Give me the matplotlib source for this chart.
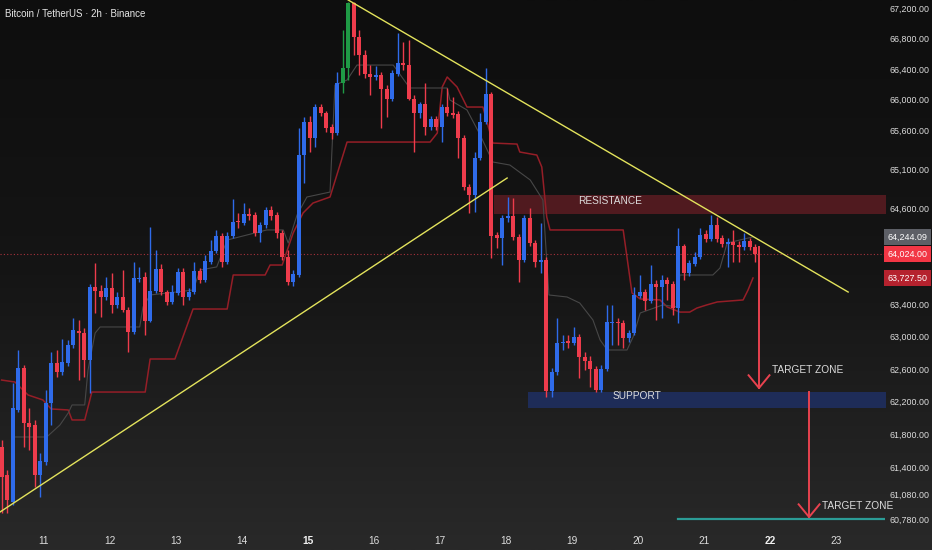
import matplotlib.pyplot as plt
import numpy as np
from matplotlib.colors import LinearSegmentedColormap
from matplotlib.ticker import FixedLocator, NullLocator, FuncFormatter
import matplotlib.transforms as mtransforms

plt.rcParams['font.family'] = ['Liberation Sans', 'DejaVu Sans']

# --- 2h candles, BTC/USDT --------------------------------------
opens = [61645, 61305, 60985, 62095, 62610, 61935, 61915, 61305, 61465, 62180,
         62670, 62560, 62670, 62895, 63065, 63045, 62705, 63615, 63565, 63490,
         63600, 63390, 63490, 63325, 63055, 63715, 63740, 63190, 63565, 63840,
         63550, 63425, 63540, 63800, 63490, 63550, 63815, 63700, 63925, 64065,
         64255, 63925, 64255, 64445, 64420, 64535, 64520, 64295, 64395, 64585,
         64520, 64295, 63990, 63675, 63765, 65285, 65705, 65500, 65900, 65825,
         65645, 65565, 66215, 66410, 67262, 66820, 66580, 66330, 66290, 66320,
         66135, 66005, 66330, 66475, 66450, 66015, 65825, 65940, 65645, 65745,
         65645, 65900, 65825, 65810, 65500, 64875, 64775, 65245, 65705, 66070,
         64265, 64230, 64485, 64510, 64240, 63950, 64485, 64165, 63925, 63950,
         62325, 62560, 62920, 62945, 62920, 62990, 62745, 62695, 62595, 62340,
         62595, 63165, 63180, 63165, 62980, 63045, 63500, 63550, 63440, 63650,
         63615, 63700, 63650, 63350, 64130, 63790, 63900, 63990, 64280, 64215,
         64395, 64230, 64155, 64180, 64140, 64115, 64190, 64115]
highs = [61730, 61365, 62425, 62830, 62645, 62120, 61975, 61570, 62340, 62805,
         62830, 62970, 62955, 63230, 63205, 63105, 63650, 63915, 63640, 63740,
         63790, 63550, 63825, 63365, 63925, 63865, 63800, 64370, 64080, 63900,
         63575, 63640, 63850, 63850, 63600, 63925, 63850, 64015, 64205, 64330,
         64295, 64305, 64725, 64545, 64670, 64610, 64560, 64430, 64620, 64635,
         64560, 64330, 64080, 63825, 65630, 65770, 65795, 65940, 65940, 65860,
         65680, 66360, 66910, 67275, 67275, 66910, 66645, 66450, 66435, 66360,
         66185, 66385, 66870, 66750, 66780, 66055, 65965, 66215, 65795, 65785,
         65940, 66150, 66030, 65850, 65540, 64915, 65325, 65825, 66410, 66095,
         64305, 64520, 64750, 64735, 64280, 64520, 64610, 64205, 64420, 63990,
         62610, 63230, 63015, 63015, 63115, 63030, 62805, 62760, 62635, 62645,
         63390, 63390, 63230, 63205, 63080, 63615, 63765, 63590, 63890, 63700,
         63765, 63740, 63690, 64355, 64155, 63950, 64055, 64355, 64330, 64520,
         64495, 64265, 64230, 64330, 64190, 64290, 64230, 64155]
lows = [60850, 60850, 60945, 62070, 61645, 61610, 61160, 61040, 61430, 61915,
        62500, 62525, 62635, 62855, 62460, 62500, 62300, 63290, 63240, 63450,
        63290, 63355, 63300, 62805, 63030, 63675, 63015, 63180, 63540, 63515,
        63390, 63400, 63515, 63390, 63450, 63525, 63665, 63675, 63900, 64040,
        63865, 63900, 64230, 64355, 64395, 64455, 64255, 64180, 64355, 64455,
        64230, 63950, 63640, 63625, 63740, 64925, 65325, 65385, 65785, 65580,
        65490, 65540, 66085, 66255, 66580, 66320, 66280, 66055, 66255, 65630,
        65770, 65980, 66305, 66385, 65990, 65325, 65760, 65540, 65605, 65605,
        65450, 65785, 65760, 65245, 64840, 64545, 64560, 65220, 65680, 63980,
        64105, 63890, 64430, 64205, 63675, 63925, 64130, 63865, 63790, 62255,
        62255, 62525, 62830, 62855, 62895, 62485, 62585, 62375, 62315, 62315,
        62575, 62895, 62895, 62855, 62930, 63015, 63475, 63325, 63415, 63205,
        63230, 63450, 63265, 63165, 63700, 63750, 63875, 63965, 64180, 64190,
        64180, 64115, 63865, 63925, 63925, 64080, 64080, 63925]
closes = [61285, 61005, 62120, 62610, 61935, 61890, 61305, 61475, 62180, 62670,
          62560, 62685, 62895, 63080, 63045, 62705, 63615, 63565, 63490, 63600,
          63390, 63490, 63325, 63055, 63725, 63725, 63190, 63565, 63840, 63550,
          63425, 63550, 63800, 63490, 63550, 63815, 63700, 63940, 64065, 64255,
          63925, 64255, 64430, 64430, 64535, 64510, 64295, 64395, 64585, 64510,
          64295, 63990, 63675, 63775, 65285, 65705, 65500, 65900, 65825, 65630,
          65565, 66215, 66410, 67262, 66820, 66580, 66330, 66290, 66320, 66135,
          66005, 66345, 66475, 66450, 66015, 65825, 65940, 65645, 65745, 65645,
          65900, 65825, 65800, 65500, 64875, 64775, 65245, 65705, 66070, 64255,
          64230, 64485, 64510, 64240, 63950, 64485, 64165, 63925, 63950, 62325,
          62560, 62920, 62930, 62920, 62990, 62745, 62695, 62595, 62340, 62595,
          63180, 63180, 63165, 62980, 63045, 63515, 63550, 63440, 63650, 63615,
          63700, 63650, 63350, 64130, 63790, 63915, 63990, 64265, 64215, 64395,
          64215, 64155, 64180, 64140, 64115, 64190, 64115, 64024]
green_idx = [62, 63]          # candles highlighted green on the chart

# trailing stop (red) and baseline (grey) -- (candle idx, price) vertices
stop_idx = [0, 2.4, 4.8, 7.5, 9.0, 12.1, 12.8, 15.1, 16.4, 26.1, 27.0, 31.5, 34.8,
            41.0, 42.1, 47.9, 48.8, 51.0, 53.0, 54.8, 56.6, 59.7, 62.8, 77.9, 79.2,
            80.1, 81.0, 82.8, 84.6, 87.5, 89.3, 93.7, 94.2, 97.3, 98.2, 99.1, 99.7,
            113.0, 114.6, 116.1, 119.7, 121.0, 123.3, 125.1, 126.4, 128.2, 130.1,
            134.8, 135.7, 136.6]
stop_px = [62462, 62438, 62279, 62218, 62108, 62096, 61974, 61974, 62315, 62315,
           62721, 62721, 63340, 63340, 63765, 63765, 63890, 63890, 64294, 64547,
           64673, 64750, 65453, 65453, 65569, 66165, 66295, 66165, 65905, 65905,
           65440, 65427, 65325, 65286, 65133, 64496, 64332, 64332, 63540, 63465,
           63453, 63366, 63302, 63302, 63352, 63391, 63428, 63453, 63577, 63727.5]
base_idx = [2.4, 8.2, 10.6, 12.1, 12.8, 15.1, 15.7, 17.0, 17.9, 25.1, 25.7, 27.0,
            34.8, 36.1, 39.1, 41.0, 48.2, 51.2, 52.1, 53.7, 55.5, 59.7, 60.6, 62.8,
            64.6, 71.2, 74.2, 81.0, 81.5, 84.6, 87.0, 89.3, 92.4, 96.1, 98.4, 99.5,
            102.8, 105.1, 107.5, 108.8, 110.1, 113.7, 114.8, 116.1, 120.2, 122.8,
            123.3, 129.3, 130.6, 131.9, 136.6]
base_px = [61767, 61767, 61913, 62059, 62157, 62157, 62585, 63042, 63117, 63117,
           63366, 63515, 63577, 63828, 63866, 64205, 64332, 64332, 64167, 64521,
           64750, 64813, 66191, 66256, 66451, 66451, 66152, 66152, 65996, 65867,
           65544, 65197, 65158, 64967, 64712, 63515, 63490, 63415, 63204, 62956,
           62832, 62832, 62993, 63291, 63391, 63366, 63765, 63765, 63853, 64167,
           64244.09]

# drawings
trend_down = ([63.0, 153.9], [67306, 63552])
trend_up = ([-0.3, 91.9], [60863, 64992])
resistance = (89.6, 64530, 64775)
support = (95.7, 62120, 62315)
arrow1 = (137.7, 64117, 62365)
arrow2 = (146.8, 62315, 60803)
target_line = (123.0, 60780)

last_price = 64024.00
price_tags = [64244.09, last_price, 63727.50]
price_ticks = [67200, 66800, 66400, 66000, 65600, 65100, 64600, 63800, 63400,
               63000, 62600, 62200, 61800, 61400, 61080, 60780]
days = list(range(11, 24))
day11_idx = 7.7
bold_days = [15, 22]

UP, DOWN, GREEN = '#2f6bea', '#ee3c4c', '#1f9a45'
TXT = '#dcdcdc'

fig = plt.figure(figsize=(9.32, 5.5), dpi=100)
bg = fig.add_axes([0, 0, 1, 1], zorder=-5)
cmap = LinearSegmentedColormap.from_list('bg', ['#0e0e0e', '#151515', '#292929'])
bg.imshow(np.linspace(0, 1, 256).reshape(-1, 1), aspect='auto', cmap=cmap,
          extent=[0, 1, 0, 1], origin='upper')
bg.axis('off')

ax = fig.add_axes([0, 22 / 550, 885 / 932, 528 / 550])
ax.set_facecolor('none')
ax.set_yscale('log')

x = np.arange(len(opens))
o, h, l, c = map(np.array, (opens, highs, lows, closes))
cols = np.where(c >= o, UP, DOWN).astype(object)
cols[green_idx] = GREEN

ax.vlines(x, l, h, colors=list(cols), lw=1, zorder=3)
body_lo = np.minimum(o, c)
body_h = np.maximum(np.abs(c - o), 8)
ax.bar(x, body_h, bottom=body_lo, width=0.74, color=list(cols), lw=0, zorder=4)

# indicators
ax.plot(stop_idx, stop_px, color='#951e27', lw=1.1, zorder=2)
ax.plot(base_idx, base_px, color='#474747', lw=0.8, zorder=2)

# zones
ax.fill_between([resistance[0], 200], resistance[1], resistance[2],
                color='#5c1c22', alpha=0.85, lw=0, zorder=1)
ax.fill_between([support[0], 200], support[1], support[2],
                color='#1f2d5c', alpha=0.95, lw=0, zorder=1)
ax.text(110.6, np.sqrt(resistance[1] * resistance[2]) * 1.0007, 'RESISTANCE',
        color=TXT, fontsize=7.3, ha='center', va='center', zorder=6)
ax.text(115.5, np.sqrt(support[1] * support[2]) * 1.0007, 'SUPPORT',
        color=TXT, fontsize=7.3, ha='center', va='center', zorder=6)

# trend lines
ax.plot(*trend_down, color='#e3e35c', lw=1, zorder=5)
ax.plot(*trend_up, color='#e3e35c', lw=1, zorder=5)

# current price line
ax.axhline(last_price, color='#a8323c', lw=0.8, ls=(0, (1, 2)), zorder=2)

# target arrows
for ax_x, top, bot in (arrow1, arrow2):
    ax.plot([ax_x, ax_x], [top, bot], color='#e8424f', lw=1.4, zorder=6)
    wing = bot * 1.0025
    ax.plot([ax_x - 1.9, ax_x, ax_x + 1.9], [wing, bot, wing],
            color='#e8424f', lw=1.4, zorder=6)
ax.text(arrow1[0] + 2.4, 62580, 'TARGET ZONE', color=TXT, fontsize=7.3,
        ha='left', va='center', zorder=6)
ax.text(arrow2[0] + 2.4, 60930, 'TARGET ZONE', color=TXT, fontsize=7.3,
        ha='left', va='center', zorder=6)
ax.plot([target_line[0], 200], [target_line[1]] * 2, color='#2b9c96', lw=1.6, zorder=5)

ax.set_xlim(-0.3, 160.6)
ax.set_ylim(60672, 67306)

# axes styling
for s in ax.spines.values():
    s.set_visible(False)
ax.yaxis.tick_right()
ax.yaxis.set_major_locator(FixedLocator(price_ticks))
ax.yaxis.set_minor_locator(NullLocator())
ax.yaxis.set_minor_formatter(FuncFormatter(lambda v, p: ''))
ax.yaxis.set_major_formatter(FuncFormatter(lambda v, p: f'{v:,.2f}'))
ax.tick_params(axis='y', length=0, pad=3.5, labelsize=6.4, labelcolor=TXT)

ax.set_xticks([day11_idx + 12 * (d - 11) for d in days])
ax.set_xticklabels([str(d) for d in days])
ax.tick_params(axis='x', length=0, pad=6, labelsize=7.3, labelcolor=TXT)
for lab, d in zip(ax.get_xticklabels(), days):
    if d in bold_days:
        lab.set_fontweight('bold')
        lab.set_color('#f0f0f0')

# right-hand price tags
tag = mtransforms.blended_transform_factory(ax.transAxes, ax.transData)
for val, fc in zip(price_tags, ('#5d5f66', '#f23645', '#b5222e')):
    ax.text(1.003, val, f'{val:,.2f}', transform=tag, fontsize=6.4, color='white',
            ha='left', va='center', zorder=10, clip_on=False,
            bbox=dict(boxstyle='square,pad=0.4', fc=fc, ec='none'))

fig.text(5 / 932, 1 - 14 / 550, 'Bitcoin / TetherUS · 2h · Binance', color='#e6e6e6',
         fontsize=7, ha='left', va='center')

fig.savefig('out.png', dpi=100)
